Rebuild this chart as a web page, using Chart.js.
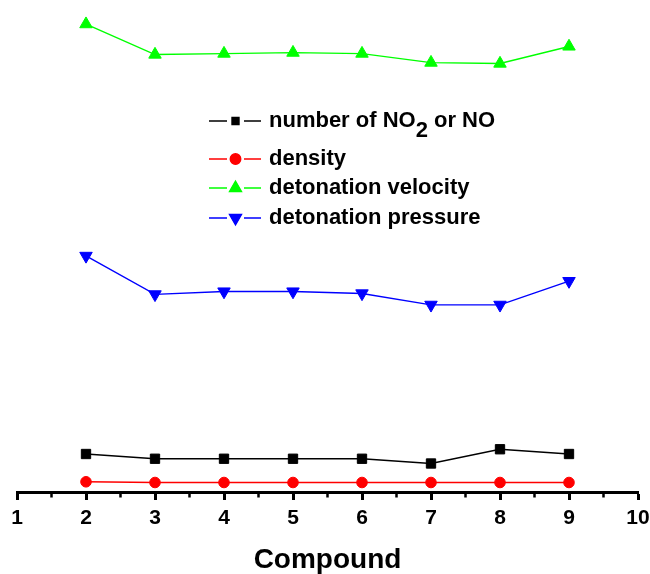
<!DOCTYPE html>
<html><head><meta charset="utf-8">
<script src="https://cdn.jsdelivr.net/npm/chart.js@4"></script>
<style>html,body{margin:0;padding:0;background:#fff}#wrap{width:650px;height:574px}</style>
</head><body><div id="wrap"><canvas id="c" width="650" height="574"></canvas></div>
<script>
// ---- data ----
const compounds   = [2, 3, 4, 5, 6, 7, 8, 9];
const xTickValues = [1, 2, 3, 4, 5, 6, 7, 8, 9, 10];
const numNO2      = [8, 7, 7, 7, 7, 6, 9, 8];
const density     = [2.15, 2.0, 2.0, 2.0, 2.0, 2.0, 2.0, 2.0];
const detVelocity = [98.5, 92.1, 92.3, 92.5, 92.3, 90.4, 90.2, 93.8];
const detPressure = [49.7, 41.6, 42.2, 42.2, 41.8, 39.4, 39.4, 44.4];
const seriesNames = ['number of NO2 or NO', 'density', 'detonation velocity', 'detonation pressure'];
const xTitle = 'Compound';

const FONT = '"Liberation Sans", Arial, Helvetica, sans-serif';
const toXY = arr => compounds.map((x, i) => ({x: x, y: arr[i]}));

const styles = [
  {color: '#000000', pointStyle: 'rect', radius: 6.6, rotation: 0, legR: 5},
  {color: '#ff0000', pointStyle: 'circle', radius: 5.3, rotation: 0, legR: 5.3},
  {color: '#00ff00', pointStyle: 'triangle', radius: 7.2, rotation: 0, legR: 7},
  {color: '#0000ff', pointStyle: 'triangle', radius: 7.2, rotation: 180, legR: 7}
];
const seriesData = [numNO2, density, detVelocity, detPressure];

const datasets = seriesData.map((d, i) => ({
  label: seriesNames[i],
  data: toXY(d),
  borderColor: styles[i].color,
  backgroundColor: styles[i].color,
  borderWidth: 1.4,
  pointStyle: styles[i].pointStyle,
  pointRadius: styles[i].radius,
  pointRotation: styles[i].rotation,
  pointBorderWidth: 1,
  pointBorderColor: styles[i].color,
  pointBackgroundColor: styles[i].color,
  tension: 0,
  clip: false
}));

// minor ticks at half-integers
const minorTicks = {
  id: 'minorTicks',
  afterDraw(chart) {
    const xs = chart.scales.x, ctx = chart.ctx;
    ctx.save();
    ctx.strokeStyle = '#000';
    ctx.lineWidth = 2.5;
    for (let i = 0; i < xTickValues.length - 1; i++) {
      const v = (xTickValues[i] + xTickValues[i + 1]) / 2;
      const px = xs.getPixelForValue(v);
      ctx.beginPath();
      ctx.moveTo(px, xs.top + 1);
      ctx.lineTo(px, xs.top + 5.5);
      ctx.stroke();
    }
    ctx.restore();
  }
};

// custom legend (supports subscript)
const legendRows = [
  [{t: 'number of NO'}, {t: '2', sub: true}, {t: ' or NO'}],
  [{t: 'density'}],
  [{t: 'detonation velocity'}],
  [{t: 'detonation pressure'}]
];
const legendY = [121, 159, 188, 218];
const customLegend = {
  id: 'customLegend',
  afterDraw(chart) {
    const ctx = chart.ctx;
    ctx.save();
    legendRows.forEach((row, i) => {
      const y = legendY[i];
      const st = styles[i];
      ctx.strokeStyle = st.color;
      ctx.lineWidth = 1.3;
      ctx.beginPath();
      ctx.moveTo(209, y); ctx.lineTo(227, y);
      ctx.moveTo(244, y); ctx.lineTo(261, y);
      ctx.stroke();
      ctx.fillStyle = st.color;
      Chart.helpers.drawPoint(ctx, {pointStyle: st.pointStyle, rotation: st.rotation, radius: st.legR, borderWidth: 1}, 235.5, y);
      ctx.fill();
      ctx.fillStyle = '#000';
      ctx.font = 'bold 22px ' + FONT;
      ctx.textBaseline = 'middle';
      ctx.textAlign = 'left';
      let x = 269;
      row.forEach(seg => {
        ctx.fillText(seg.t, x, seg.sub ? y + 10 : y);
        x += ctx.measureText(seg.t).width;
      });
    });
    ctx.restore();
  }
};

new Chart(document.getElementById('c'), {
  type: 'line',
  data: {datasets: datasets},
  plugins: [minorTicks, customLegend],
  options: {
    responsive: false,
    animation: false,
    devicePixelRatio: 1,
    layout: {padding: {left: 17, right: 12, top: 17, bottom: 0}},
    plugins: {legend: {display: false}, tooltip: {enabled: false}},
    scales: {
      x: {
        type: 'linear',
        min: 1, max: 10,
        afterBuildTicks: s => { s.ticks = xTickValues.map(v => ({value: v})); },
        afterFit: s => { s.height = 82; s.paddingLeft = 0; s.paddingRight = 0; },
        ticks: {
          color: '#000',
          font: {family: FONT, size: 21, weight: 'bold'},
          padding: 6,
          maxRotation: 0,
          autoSkip: false
        },
        grid: {display: true, drawOnChartArea: false, drawTicks: true, tickLength: 8, tickColor: '#000', tickWidth: 3},
        border: {display: true, color: '#000', width: 3},
        title: {
          display: true, text: xTitle, color: '#000',
          font: {family: FONT, size: 28, weight: 'bold', lineHeight: 1},
          padding: {top: 0, bottom: 0}
        }
      },
      y: {display: false, min: 0, max: 100}
    }
  }
});
</script>
</body></html>
